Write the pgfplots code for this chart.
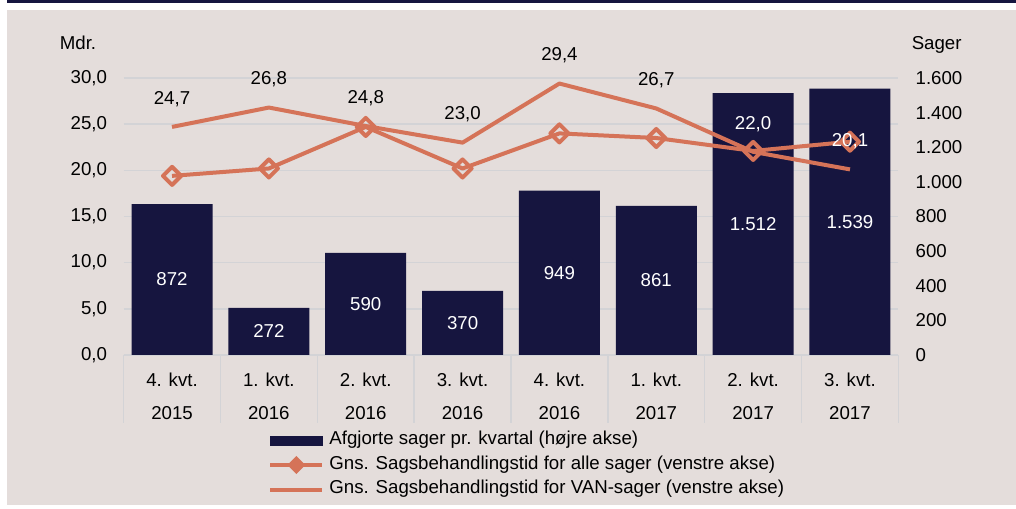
\documentclass[border=0pt]{standalone}
\usepackage{fontspec}
\setmainfont{Liberation Sans}
\usepackage{pgfplots}
\pgfplotsset{compat=1.18}
\definecolor{bgc}{HTML}{E4DDDB}
\definecolor{navyc}{HTML}{16153F}
\definecolor{orangec}{HTML}{D57358}
\definecolor{gridc}{HTML}{D3D3D6}
\newcommand{\f}{\fontsize{14}{16.8}\selectfont}
\pgfplotsset{
  base/.style={scale only axis, width=581.1pt, height=207.75pt,
    at={(92.7pt,115.5pt)}, anchor=south west, xmin=-0.5, xmax=7.5, clip=false},
  diamleg/.style={legend image code/.code={\draw[mark repeat=2,mark phase=2,##1] plot coordinates {(0pt,0pt)(19.5pt,0pt)(39pt,0pt)};}},
  lineleg/.style={legend image code/.code={\draw[##1] (0pt,0pt) -- (39pt,0pt);}},
  barleg/.style={legend image code/.code={\fill[navyc] (0pt,-3.4pt) rectangle (39pt,3.4pt);}},
}
\begin{document}
\begin{tikzpicture}
\path[use as bounding box] (0,0) rectangle (762pt,381.75pt);
\fill[white] (0,0) rectangle (762pt,381.75pt);
\fill[navyc] (5.25pt,379.3pt) rectangle (762pt,381.75pt);
\fill[bgc] (5.25pt,3pt) rectangle (762pt,374.25pt);
\node[font=\f, anchor=base] at (58.5pt,344.25pt) {Mdr.};
\node[font=\f, anchor=base] at (702.5pt,344.25pt) {Sager};

% grid + left ticks + categories
\begin{axis}[base, ymin=0, ymax=30, ytick={0,5,...,30},
  ymajorgrids, grid style={draw=gridc, line width=1.1pt},
  separate axis lines, axis x line*=bottom, axis y line*=left,
  y axis line style={draw=none},
  x axis line style={draw=gridc, line width=1.1pt, -},
  ytick style={draw=none},
  xtick={0,...,7},
  xticklabels={{4. kvt.\\2015},{1. kvt.\\2016},{2. kvt.\\2016},{3. kvt.\\2016},{4. kvt.\\2016},{1. kvt.\\2017},{2. kvt.\\2017},{3. kvt.\\2017}},
  major x tick style={draw=none},
  minor xtick={-0.5,0.5,...,7.5},
  minor tick length=51pt, tick align=outside,
  minor x tick style={draw=gridc, line width=1.1pt},
  xticklabel style={align=center, anchor=north, inner sep=0pt, yshift=-8.8pt, font=\fontsize{14}{24.75}\selectfont},
  yticklabel style={anchor=east, inner sep=0pt, xshift=-8pt, font=\f},
  /pgf/number format/.cd, fixed, fixed zerofill, precision=1, use comma, assume math mode=true]
\addplot[draw=none, mark=none, forget plot] coordinates {(0,0)};
\end{axis}

% bars, right axis
\begin{axis}[base, ymin=0, ymax=1600, ytick={0,200,...,1600},
  axis y line*=right, axis x line=none,
  y axis line style={draw=none}, ytick style={draw=none},
  yticklabel style={anchor=west, inner sep=0pt, xshift=12.75pt, font=\f},
  /pgf/number format/.cd, 1000 sep={.}, assume math mode=true]
\addplot[ybar, bar width=60.75pt, fill=navyc, draw=none] coordinates
  {(0,872) (1,272) (2,590) (3,370) (4,949) (5,861) (6,1512) (7,1539)};
\addplot[draw=none, mark=none, nodes near coords, point meta=explicit,
  every node near coord/.append style={anchor=center, text=white, font=\f}] coordinates
  {(0,436)[872] (1,136)[272] (2,295)[590] (3,185)[370] (4,474.5)[949] (5,430.5)[861] (6,756)[1512] (7,769.5)[1539]};
\end{axis}

% lines
\begin{axis}[base, ymin=0, ymax=30, hide axis,
  legend cell align=left,
  legend style={at={(0.1865,-0.2635)}, anchor=north west, draw=none, fill=none,
    inner sep=0pt, row sep=0pt, column sep=3.75pt, font=\f,
    nodes={inner sep=0pt, text height=12.5pt, text depth=5.875pt}},
  /pgf/number format/.cd, fixed, fixed zerofill, precision=1, use comma, assume math mode=true]
\addlegendimage{barleg}
\addlegendentry{Afgjorte sager pr. kvartal (højre akse)}
\addlegendimage{orangec, line width=3pt, mark=square*, mark size=3.3pt, mark options={rotate=45,solid}, diamleg}
\addlegendentry{Gns. Sagsbehandlingstid for alle sager (venstre akse)}
\addlegendimage{orangec, line width=3pt, lineleg}
\addlegendentry{Gns. Sagsbehandlingstid for VAN-sager (venstre akse)}

\addplot[orangec, line width=3pt, line join=round, mark=none, forget plot] coordinates
  {(0,24.7) (1,26.8) (2,24.8) (3,23.0) (4,29.4) (5,26.7) (6,22.0) (7,20.1)};
\addplot[orangec, line width=3pt, line join=round, mark=square, mark size=4.8pt,
  mark options={rotate=45, solid, fill=none}, forget plot] coordinates
  {(0,19.4) (1,20.2) (2,24.7) (3,20.2) (4,24.0) (5,23.5) (6,22.1) (7,23.1)};
\addplot[draw=none, mark=none, forget plot, nodes near coords, point meta=y,
  every node near coord/.append style={anchor=center, yshift=21pt, text=black, font=\f}] coordinates
  {(0,24.7) (1,26.8) (2,24.8) (3,23.0) (4,29.4) (5,26.7)};
\addplot[draw=none, mark=none, forget plot, nodes near coords, point meta=y,
  every node near coord/.append style={anchor=center, yshift=21pt, text=white, font=\f}] coordinates
  {(6,22.0) (7,20.1)};
\end{axis}
\end{tikzpicture}
\end{document}
